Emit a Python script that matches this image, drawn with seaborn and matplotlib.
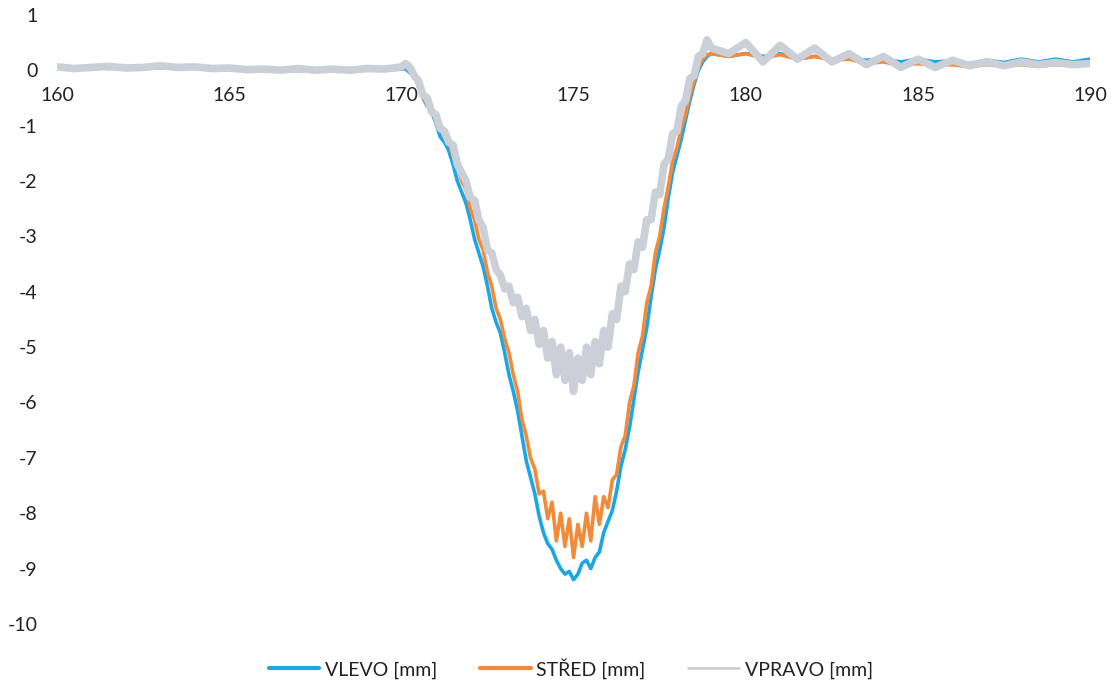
import numpy as np
import pandas as pd
import matplotlib
matplotlib.use("Agg")
import matplotlib.pyplot as plt
import seaborn as sns

# ---- data ----
x_left = [160, 160.5, 161, 161.5, 162, 162.5, 163, 163.5, 164, 164.5, 165,
          165.5, 166, 166.5, 167, 167.5, 168, 168.5, 169, 169.5, 170]
x_dip = [170.125, 170.25, 170.375, 170.5, 170.625, 170.75, 170.875, 171,
         171.125, 171.25, 171.375, 171.5, 171.625, 171.75, 171.875, 172,
         172.125, 172.25, 172.375, 172.5, 172.625, 172.75, 172.875, 173,
         173.125, 173.25, 173.375, 173.5, 173.625, 173.75, 173.875, 174,
         174.125, 174.25, 174.375, 174.5, 174.625, 174.75, 174.875, 175,
         175.125, 175.25, 175.375, 175.5, 175.625, 175.75, 175.875, 176,
         176.125, 176.25, 176.375, 176.5, 176.625, 176.75, 176.875, 177,
         177.125, 177.25, 177.375, 177.5, 177.625, 177.75, 177.875, 178,
         178.125, 178.25, 178.375, 178.5, 178.625, 178.75, 178.875, 179]
x_right = [179.5, 180, 180.5, 181, 181.5, 182, 182.5, 183, 183.5, 184, 184.5,
           185, 185.5, 186, 186.5, 187, 187.5, 188, 188.5, 189, 189.5, 190]

vlevo_left = [0.05, 0.04, 0.06, 0.03, 0.05, 0.07, 0.04, 0.06, 0.03, 0.05, 0.02,
              0.03, 0.0, 0.02, -0.01, 0.01, 0.0, -0.02, 0.01, 0.0, 0.02]
vlevo_dip = [0.03, -0.05, -0.1, -0.3, -0.5, -0.65, -0.75, -0.95,
             -1.2, -1.3, -1.45, -1.7, -2.0, -2.2, -2.4, -2.7,
             -3.05, -3.3, -3.55, -3.9, -4.3, -4.55, -4.75, -5.1,
             -5.5, -5.8, -6.15, -6.6, -7.05, -7.35, -7.65, -8.05,
             -8.35, -8.55, -8.65, -8.85, -9.0, -9.1, -9.05, -9.2,
             -9.1, -8.9, -8.85, -9.0, -8.8, -8.7, -8.35, -8.15,
             -7.95, -7.6, -7.15, -6.85, -6.45, -5.95, -5.45, -5.05,
             -4.65, -4.1, -3.6, -3.25, -2.85, -2.3, -1.85, -1.55,
             -1.25, -0.9, -0.55, -0.25, 0.0, 0.15, 0.25, 0.3]
vlevo_right = [0.25, 0.3, 0.25, 0.3, 0.2, 0.25, 0.2, 0.22, 0.18, 0.2, 0.15,
               0.2, 0.15, 0.17, 0.12, 0.18, 0.14, 0.2, 0.15, 0.2, 0.15, 0.2]

stred_left = [0.04, 0.06, 0.02, 0.05, 0.03, 0.06, 0.05, 0.03, 0.07, 0.04, 0.01,
              0.02, 0.03, -0.01, 0.0, 0.02, -0.01, 0.01, 0.03, 0.02, 0.05]
stred_dip = [0.08, 0.0, -0.05, -0.25, -0.5, -0.6, -0.65, -0.85,
             -1.05, -1.2, -1.3, -1.55, -1.7, -2.0, -2.15, -2.5,
             -2.7, -3.05, -3.25, -3.65, -3.9, -4.3, -4.5, -4.85,
             -5.1, -5.5, -5.8, -6.3, -6.6, -7.0, -7.2, -7.65,
             -7.6, -8.1, -7.8, -8.5, -8.0, -8.6, -8.1, -8.8,
             -8.2, -8.6, -8.0, -8.5, -7.7, -8.2, -7.7, -7.9,
             -7.4, -7.3, -6.8, -6.6, -6.0, -5.7, -5.1, -4.8,
             -4.2, -3.9, -3.3, -3.0, -2.5, -2.1, -1.65, -1.4,
             -1.05, -0.8, -0.45, -0.2, 0.05, 0.2, 0.28, 0.3]
stred_right = [0.25, 0.3, 0.22, 0.28, 0.2, 0.25, 0.18, 0.2, 0.12, 0.15, 0.08,
               0.12, 0.08, 0.1, 0.06, 0.1, 0.08, 0.1, 0.07, 0.1, 0.08, 0.1]

vpravo_left = [0.06, 0.03, 0.05, 0.07, 0.04, 0.05, 0.08, 0.05, 0.06, 0.03, 0.04,
               0.01, 0.02, 0.0, 0.03, 0.0, 0.02, 0.0, 0.03, 0.02, 0.06]
vpravo_dip = [0.12, 0.05, -0.1, -0.2, -0.45, -0.5, -0.75, -0.8,
              -1.05, -1.1, -1.3, -1.35, -1.7, -1.85, -2.0, -2.3,
              -2.35, -2.7, -2.85, -3.25, -3.3, -3.6, -3.7, -3.95,
              -3.9, -4.2, -4.1, -4.45, -4.3, -4.7, -4.5, -4.95,
              -4.7, -5.2, -4.9, -5.5, -5.0, -5.6, -5.1, -5.8,
              -5.2, -5.6, -5.0, -5.5, -4.9, -5.3, -4.7, -5.0,
              -4.4, -4.5, -3.9, -4.0, -3.5, -3.6, -3.1, -3.2,
              -2.7, -2.7, -2.2, -2.25, -1.7, -1.6, -1.15, -1.1,
              -0.65, -0.55, -0.15, -0.1, 0.25, 0.3, 0.55, 0.4]
vpravo_right = [0.3, 0.5, 0.15, 0.45, 0.2, 0.4, 0.15, 0.3, 0.1, 0.25, 0.05,
                0.2, 0.05, 0.18, 0.08, 0.15, 0.08, 0.15, 0.1, 0.14, 0.1, 0.12]

series_names = ["VLEVO [mm]", "STŘED [mm]", "VPRAVO [mm]"]
x_ticks = [160, 165, 170, 175, 180, 185, 190]
y_ticks = [-10, -9, -8, -7, -6, -5, -4, -3, -2, -1, 0, 1]

# ---- build table ----
x_all = x_left + x_dip + x_right
series_values = {
    "VLEVO [mm]": vlevo_left + vlevo_dip + vlevo_right,
    "STŘED [mm]": stred_left + stred_dip + stred_right,
    "VPRAVO [mm]": vpravo_left + vpravo_dip + vpravo_right,
}
df = pd.concat(
    [pd.DataFrame({"x": x_all, "y": v, "series": k}) for k, v in series_values.items()],
    ignore_index=True,
)

sns.set_theme(style="white")
plt.rcParams["font.family"] = ["Lato", "DejaVu Sans"]
plt.rcParams["axes.unicode_minus"] = False

colors = {"VLEVO [mm]": "#1ca6e6", "STŘED [mm]": "#f28a3a", "VPRAVO [mm]": "#cbd0d8"}
widths = {"VLEVO [mm]": 2.6, "STŘED [mm]": 2.6, "VPRAVO [mm]": 5.5}

fig = plt.figure(figsize=(11.17, 6.86), dpi=100)
ax = fig.add_axes([0.051, 0.0904, 0.925, 0.888])

for name in series_names:
    sub = df[df["series"] == name]
    sns.lineplot(data=sub, x="x", y="y", ax=ax, color=colors[name],
                 linewidth=widths[name], label=name, sort=False,
                 estimator=None, legend=False)

ax.set_xlim(160, 190)
ax.set_ylim(-10, 1)
ax.set_xticks(x_ticks)
ax.set_yticks(y_ticks)
ax.set_xticklabels([str(t) for t in x_ticks])
ax.set_yticklabels([str(t) for t in y_ticks])
ax.set_xlabel("")
ax.set_ylabel("")

for s in ["top", "right", "left"]:
    ax.spines[s].set_visible(False)
ax.spines["bottom"].set_position(("data", 0))
ax.spines["bottom"].set_visible(False)
ax.tick_params(axis="x", length=0, pad=12, labelsize=14, colors="#222222")
ax.tick_params(axis="y", length=0, pad=14, labelsize=14, colors="#222222")
ax.grid(False)

handles = [plt.Line2D([0], [0], color=colors[n], linewidth=(3 if n != "VPRAVO [mm]" else 2))
           for n in series_names]
fig.legend(handles, series_names, loc="center", bbox_to_anchor=(0.511, 0.026),
           ncol=3, frameon=False, fontsize=14, handlelength=2.6,
           columnspacing=2.2, handletextpad=0.3, labelcolor="#222222")

fig.savefig("out.png", dpi=100, facecolor="white")
